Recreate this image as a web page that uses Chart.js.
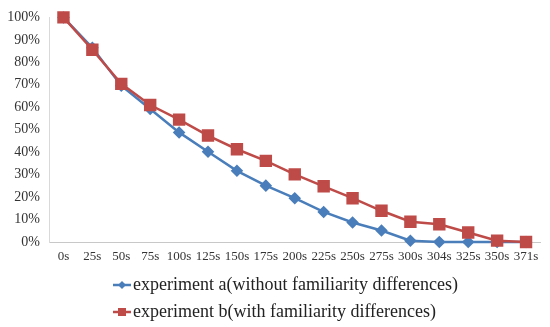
<!DOCTYPE html>
<html>
<head>
<meta charset="utf-8">
<script src="https://cdn.jsdelivr.net/npm/chart.js@4"></script>
<style>
  html, body { margin: 0; background: #fff; }
  #wrap { width: 550px; height: 327px; position: relative; }
</style>
</head>
<body>
<div id="wrap"><canvas id="chart"></canvas></div>
<script>
  const TIME_LABELS = ["0s", "25s", "50s", "75s", "100s", "125s", "150s", "175s", "200s",
    "225s", "250s", "275s", "300s", "304s", "325s", "350s", "371s"];
  const EXP_A = [100, 86.5, 69.6, 59.2, 48.8, 40.2, 31.7, 25.1, 19.5, 13.4, 8.7, 5.1, 0.6, 0, 0, 0, 0];
  const EXP_B = [100, 85.6, 70.4, 61, 54.5, 47.4, 41.3, 36.1, 30.1, 24.8, 19.5, 13.9, 9, 7.9, 4.2, 0.6, 0];
  const Y_TICKS = [0, 10, 20, 30, 40, 50, 60, 70, 80, 90, 100];

  const BLUE = "#4a7ebb";
  const RED = "#be4b48";
  const FONT = "'Liberation Serif', 'Times New Roman', serif";

  // small line+marker icon, like the spreadsheet legend
  function legendIcon(color, shape) {
    const c = document.createElement("canvas");
    c.width = 18;
    c.height = 12;
    const g = c.getContext("2d");
    g.strokeStyle = color;
    g.lineWidth = 2.5;
    g.beginPath();
    g.moveTo(0, 6);
    g.lineTo(18, 6);
    g.stroke();
    g.fillStyle = color;
    if (shape === "diamond") {
      g.beginPath();
      g.moveTo(9, 2);
      g.lineTo(13, 6);
      g.lineTo(9, 10);
      g.lineTo(5, 6);
      g.closePath();
      g.fill();
    } else {
      g.fillRect(5, 2, 8, 8);
    }
    return c;
  }
  const ICONS = [legendIcon(BLUE, "diamond"), legendIcon(RED, "square")];

  // legend sits left-aligned under the plot, not centred
  const legendPlace = {
    id: "legendPlace",
    afterLayout(chart) {
      chart.legend.left = 111;
      chart.legend.top = 267;
    },
  };

  new Chart(document.getElementById("chart"), {
    type: "line",
    data: {
      labels: TIME_LABELS,
      datasets: [
        {
          label: "experiment a(without familiarity differences)",
          data: EXP_A,
          borderColor: BLUE,
          backgroundColor: BLUE,
          borderWidth: 2.5,
          pointStyle: "rectRot",
          pointRadius: 4.5,
          pointHoverRadius: 4.5,
          tension: 0,
          clip: false,
          order: 1,
        },
        {
          label: "experiment b(with familiarity differences)",
          data: EXP_B,
          borderColor: RED,
          backgroundColor: RED,
          borderWidth: 2.5,
          pointStyle: "rect",
          pointRadius: 7,
          pointHoverRadius: 7,
          tension: 0,
          clip: false,
          order: 0,
        },
      ],
    },
    options: {
      responsive: true,
      maintainAspectRatio: false,
      animation: false,
      layout: { padding: { top: 10, left: 0, right: 0, bottom: 0 } },
      plugins: {
        tooltip: { enabled: false },
        legend: {
          position: "bottom",
          align: "start",
          labels: {
            usePointStyle: true,
            pointStyleWidth: 4,
            padding: 9,
            color: "#222",
            font: { family: FONT, size: 18 },
            sort: (a, b) => a.datasetIndex - b.datasetIndex,
            generateLabels(chart) {
              const items = Chart.defaults.plugins.legend.labels.generateLabels(chart);
              items.forEach((it) => { it.pointStyle = ICONS[it.datasetIndex]; });
              return items;
            },
          },
        },
      },
      scales: {
        x: {
          offset: true,
          grid: { display: false, drawTicks: false },
          border: { display: true, color: "#c8c8c8", width: 1 },
          ticks: {
            color: "#333",
            font: { family: FONT, size: 13 },
            padding: 7,
            maxRotation: 0,
            autoSkip: false,
          },
          afterFit: (s) => { s.height = 21; },
        },
        y: {
          min: 0,
          max: 100,
          afterBuildTicks: (s) => { s.ticks = Y_TICKS.map((v) => ({ value: v })); },
          grid: { display: false, drawTicks: false },
          border: { display: true, color: "#d9d9d9", width: 1 },
          ticks: {
            color: "#333",
            font: { family: FONT, size: 14 },
            padding: 9,
            callback: (v) => v + "%",
          },
          afterFit: (s) => { s.width = 49; },
        },
      },
    },
    plugins: [legendPlace],
  });
</script>
</body>
</html>
